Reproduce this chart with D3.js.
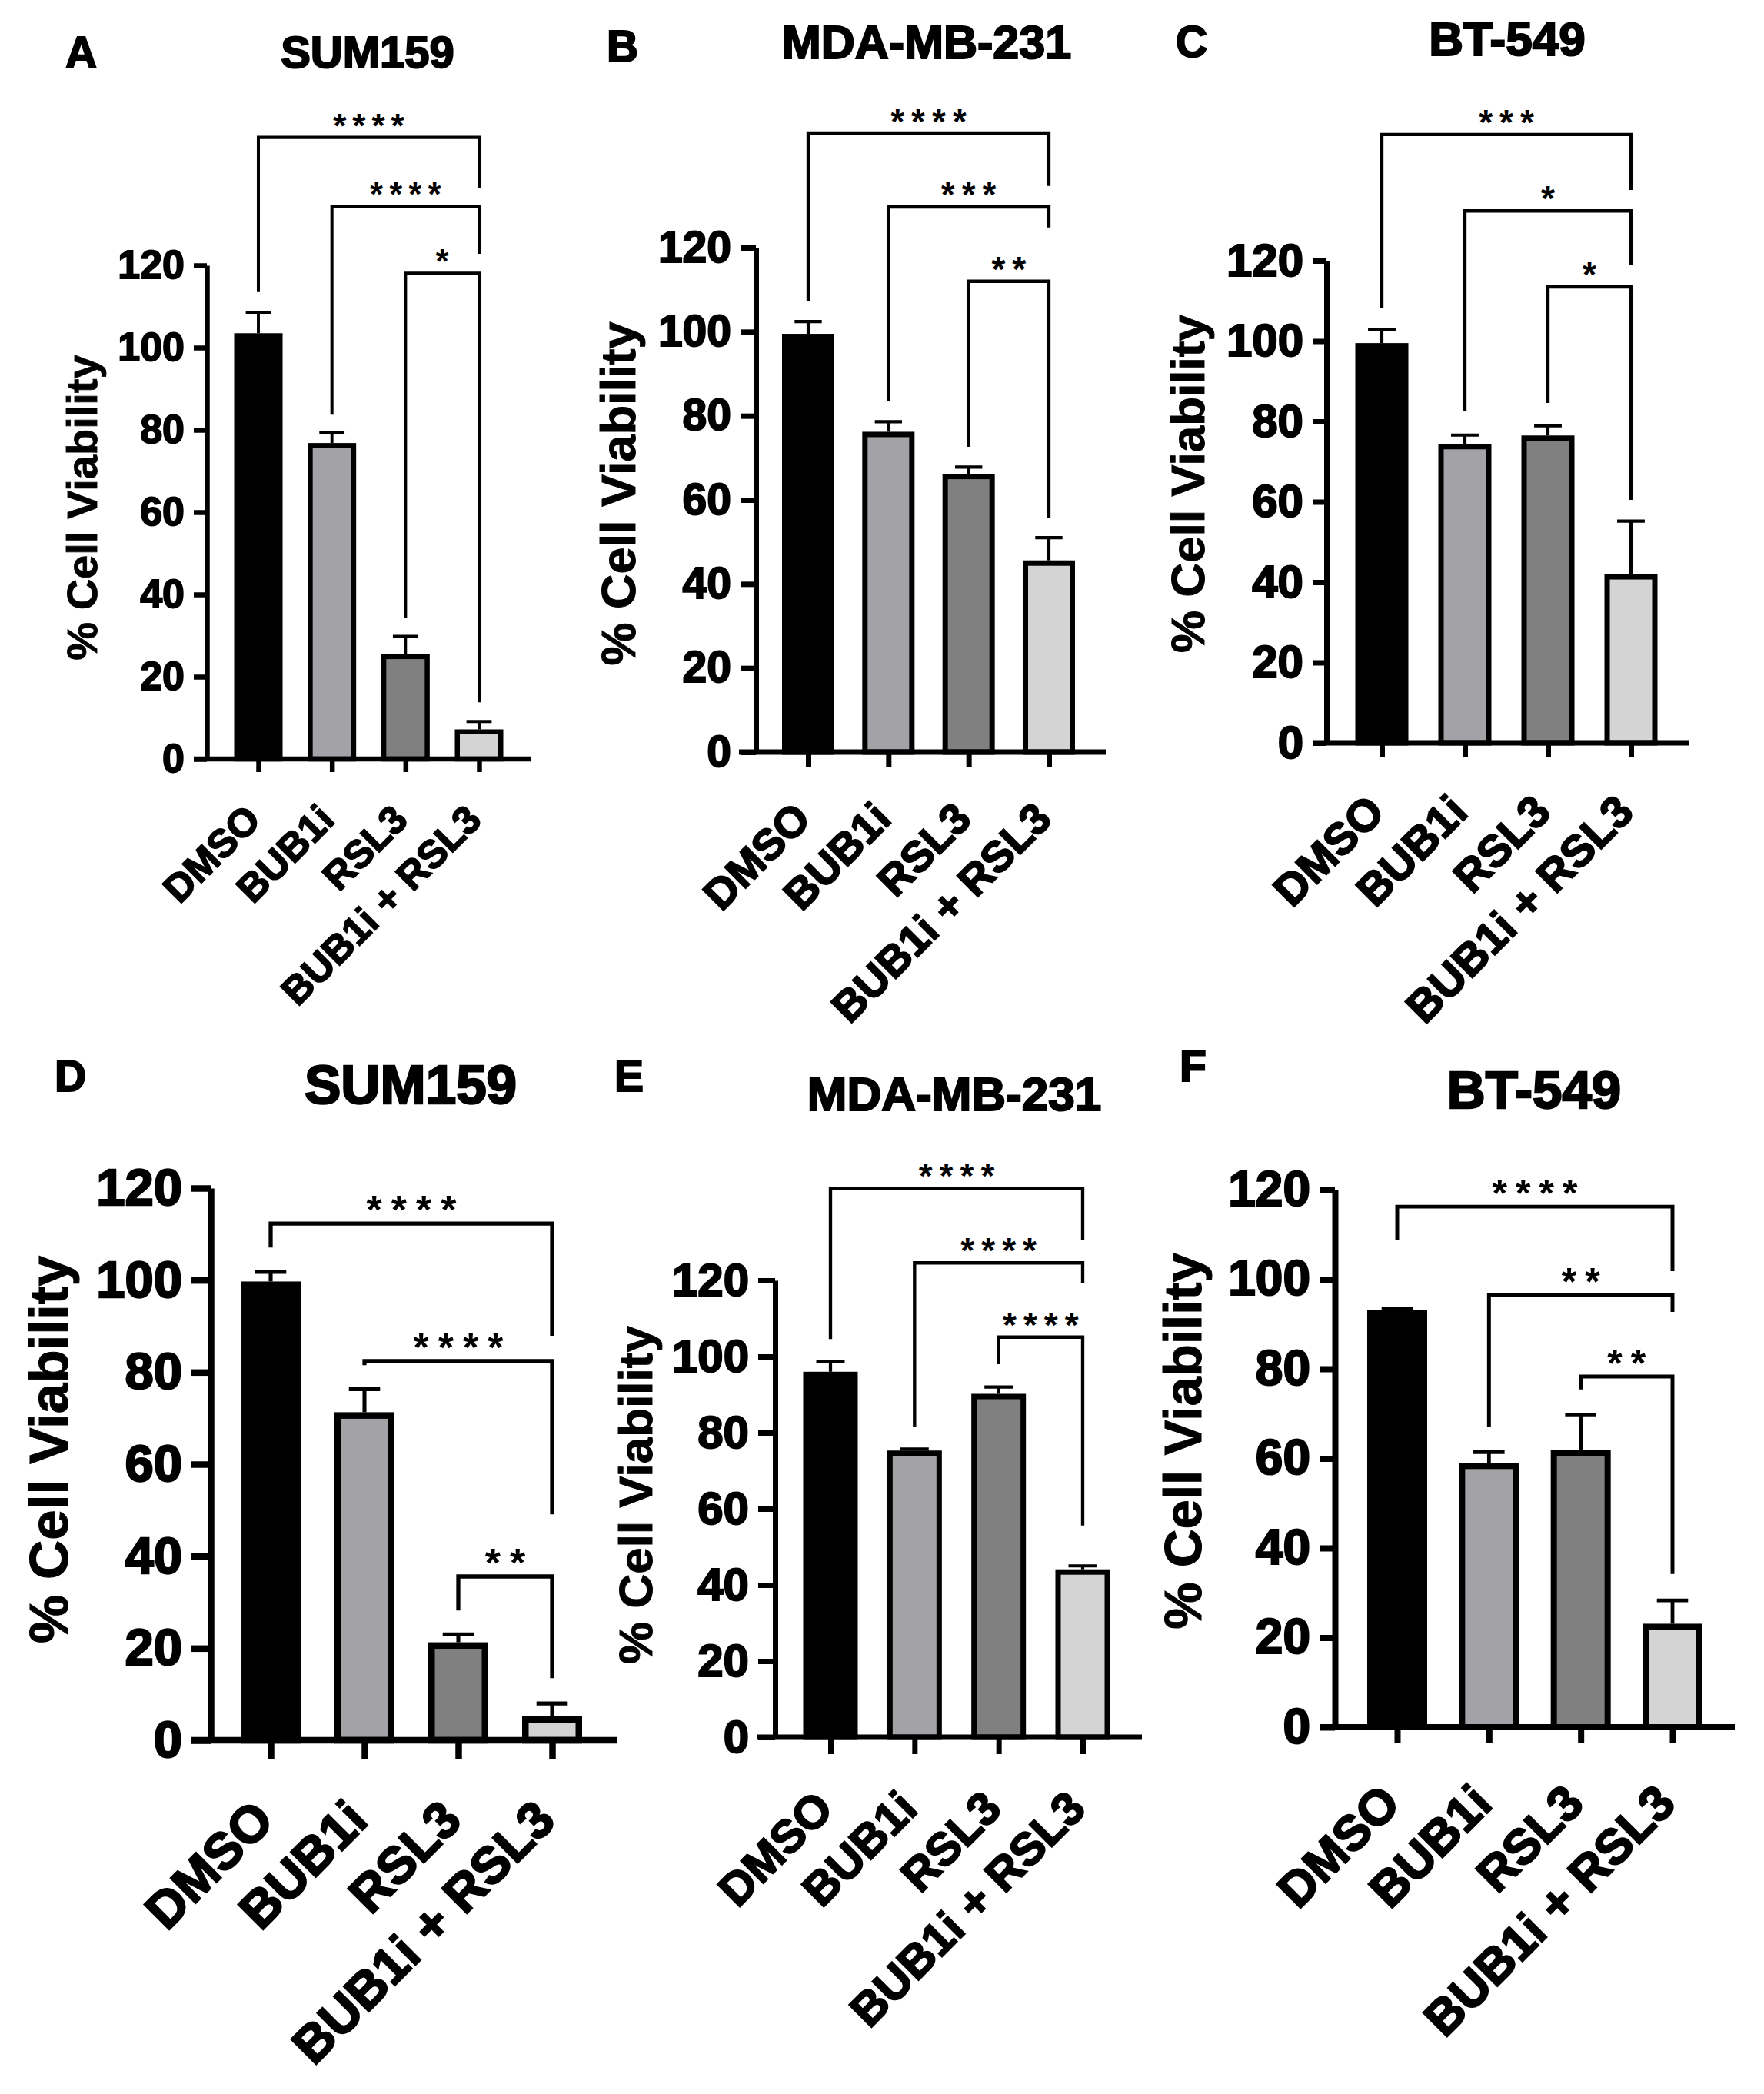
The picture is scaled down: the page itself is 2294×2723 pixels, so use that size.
<!DOCTYPE html>
<html>
<head>
<meta charset="utf-8">
<script src="https://cdn.jsdelivr.net/npm/d3@7/dist/d3.min.js"></script>
<style>
  body { margin: 0; background: #fff; }
  svg text { font-family: "Liberation Sans", Arial, sans-serif; }
</style>
</head>
<body>
<div id="canvas"></div>
<script>
// ---- data ----
var categories = ["DMSO", "BUB1i", "RSL3", "BUB1i + RSL3"];
var panelLetters = ["A", "B", "C", "D", "E", "F"];
var cellLines = ["SUM159", "MDA-MB-231", "BT-549", "SUM159", "MDA-MB-231", "BT-549"];
var yTicks = [0, 20, 40, 60, 80, 100, 120];
var yLabel = "% Cell Viability";

// mean % viability and SEM (upper error bar only)
var meanA = [103.5, 76.8, 25.5, 7.2],  errA = [5.1, 2.5, 4.3, 1.9];
var meanB = [99.5, 76.2, 66.2, 45.6],  errB = [2.9, 2.4, 1.6, 5.4];
var meanC = [99.5, 74.4, 76.5, 42.0],  errC = [3.3, 2.2, 2.4, 13.2];
var meanD = [99.7, 71.3, 21.3, 5.2],   errD = [2.1, 5.0, 1.7, 2.8];
var meanE = [96.0, 75.3, 90.2, 44.1],  errE = [2.7, 0.4, 1.8, 0.9];
var meanF = [93.2, 59.0, 61.8, 23.1],  errF = [0.3, 2.4, 8.0, 5.2];

// comparisons: each group vs BUB1i + RSL3
var pairs = [[0, 3], [1, 3], [2, 3]];
var starsA = ["****", "****", "*"];
var starsB = ["****", "***", "**"];
var starsC = ["***", "*", "*"];
var starsD = ["****", "****", "**"];
var starsE = ["****", "****", "****"];
var starsF = ["****", "**", "**"];

// bracket level, and where the left / right legs stop (in % units)
var levelA = [151.1, 134.4, 118.1], leftA = [113.5, 83.7, 34.2], rightA = [138.9, 122.8, 13.8];
var levelB = [147.1, 129.7, 112.0], leftB = [107.4, 83.4, 72.6], rightB = [134.7, 124.8, 55.8];
var levelC = [151.4, 132.4, 113.5], leftC = [108.3, 82.5, 84.6], rightC = [137.6, 118.9, 60.5];
var levelD = [112.3, 82.4, 35.6],   leftD = [107.1, 81.5, 28.2], rightD = [87.9, 49.1, 13.5];
var levelE = [144.2, 124.6, 105.1], leftE = [104.6, 81.4, 98.0], rightE = [130.5, 119.4, 55.6];
var levelF = [116.2, 96.5, 78.3],   leftF = [108.7, 67.0, 75.4], rightF = [101.8, 92.7, 34.2];

var panelData = [
  {mean: meanA, err: errA, stars: starsA, level: levelA, left: leftA, right: rightA},
  {mean: meanB, err: errB, stars: starsB, level: levelB, left: leftB, right: rightB},
  {mean: meanC, err: errC, stars: starsC, level: levelC, left: leftC, right: rightC},
  {mean: meanD, err: errD, stars: starsD, level: levelD, left: leftD, right: rightD},
  {mean: meanE, err: errE, stars: starsE, level: levelE, left: leftE, right: rightE},
  {mean: meanF, err: errF, stars: starsF, level: levelF, left: leftF, right: rightF}
];

// ---- styles and layout ----
var fills = ["#000000", "#a3a3a7", "#808080", "#d4d4d4"];

var layout = [
  {axisX: 269,  y0: 987,  y120: 345,  xStart: 252,  xEnd: 691,  c0: 336,  c3: 623,  barW: 63, tickLen: 17, tickFont: 52, xFont: 51,
   titleX: 478,  titleY: 88,   titleFont: 58, letterX: 85,   letterY: 88,   ylabX: 106,  ylabY: 660,  ylabFont: 56, starFont: 44, ls: 8,  sw: 6.5},
  {axisX: 983,  y0: 978,  y120: 322,  xStart: 961,  xEnd: 1438, c0: 1051, c3: 1364, barW: 68, tickLen: 20, tickFont: 57, xFont: 56,
   titleX: 1205, titleY: 76,   titleFont: 61, letterX: 789,  letterY: 80,   ylabX: 803,  ylabY: 642,  ylabFont: 63, starFont: 46, ls: 9,  sw: 7},
  {axisX: 1725, y0: 966,  y120: 339,  xStart: 1707, xEnd: 2196, c0: 1797, c3: 2121, barW: 69, tickLen: 18, tickFont: 60, xFont: 58,
   titleX: 1960, titleY: 72,   titleFont: 62, letterX: 1529, letterY: 74,   ylabX: 1544, ylabY: 629,  ylabFont: 62, starFont: 46, ls: 9,  sw: 7},
  {axisX: 274,  y0: 2263, y120: 1545, xStart: 248,  xEnd: 802,  c0: 352,  c3: 718,  barW: 78, tickLen: 25, tickFont: 67, xFont: 67,
   titleX: 534,  titleY: 1435, titleFont: 71, letterX: 71,   letterY: 1419, ylabX: 62,   ylabY: 1885, ylabFont: 71, starFont: 52, ls: 12, sw: 8.5},
  {axisX: 1008, y0: 2259, y120: 1665, xStart: 985,  xEnd: 1485, c0: 1080, c3: 1408, barW: 71, tickLen: 22, tickFont: 60, xFont: 60,
   titleX: 1241, titleY: 1444, titleFont: 62, letterX: 799,  letterY: 1419, ylabX: 826,  ylabY: 1944, ylabFont: 62, starFont: 46, ls: 9,  sw: 7},
  {axisX: 1736, y0: 2246, y120: 1547, xStart: 1716, xEnd: 2256, c0: 1817, c3: 2175, barW: 78, tickLen: 20, tickFont: 64, xFont: 64,
   titleX: 1995, titleY: 1441, titleFont: 69, letterX: 1534, letterY: 1406, ylabX: 1537, ylabY: 1874, ylabFont: 69, starFont: 50, ls: 11, sw: 8}
];

var svg = d3.select("#canvas").append("svg")
  .attr("width", 2294)
  .attr("height", 2723)
  .style("background", "#fff");

panelData.forEach(function(p, k) {
  drawPanel(p, layout[k], k);
});

// heavy bold text, like the exported figure
function heavy(sel, size, extra) {
  sel.style("font-size", size + "px")
    .style("font-weight", "bold")
    .style("fill", "#000")
    .style("stroke", "#000")
    .style("stroke-width", size * extra);
}

function drawPanel(p, L, k) {
  var y = d3.scaleLinear().domain([0, 120]).range([L.y0, L.y120]);
  var x = d3.scalePoint().domain(categories).range([L.c0, L.c3]);
  var g = svg.append("g").attr("class", "panel");

  // panel letter + title
  g.append("text")
    .attr("x", L.letterX).attr("y", L.letterY)
    .call(heavy, 57, 0.035)
    .text(panelLetters[k]);
  g.append("text")
    .attr("x", L.titleX).attr("y", L.titleY)
    .attr("text-anchor", "middle")
    .call(heavy, L.titleFont, 0.035)
    .text(cellLines[k]);

  // y label
  g.append("text")
    .attr("transform", "translate(" + L.ylabX + "," + L.ylabY + ") rotate(-90)")
    .attr("text-anchor", "middle")
    .attr("dy", "0.36em")
    .call(heavy, L.ylabFont, 0.015)
    .text(yLabel);

  // bars
  g.selectAll("rect.bar")
    .data(p.mean)
    .enter().append("rect")
      .attr("class", "bar")
      .attr("x", function(d, i) { return x(categories[i]) - L.barW / 2 + L.sw / 2; })
      .attr("y", function(d) { return y(d) + L.sw / 2; })
      .attr("width", L.barW - L.sw)
      .attr("height", function(d) { return L.y0 - y(d) - L.sw / 2; })
      .style("fill", function(d, i) { return fills[i]; })
      .style("stroke", "#000")
      .style("stroke-width", L.sw);

  // error bars (upper only)
  var ew = L.sw * 0.6;
  g.selectAll("line.err")
    .data(p.mean)
    .enter().append("line")
      .attr("class", "err")
      .attr("x1", function(d, i) { return x(categories[i]); })
      .attr("x2", function(d, i) { return x(categories[i]); })
      .attr("y1", function(d) { return y(d); })
      .attr("y2", function(d, i) { return y(d + p.err[i]); })
      .style("stroke", "#000").style("stroke-width", ew);
  g.selectAll("line.cap")
    .data(p.mean)
    .enter().append("line")
      .attr("class", "cap")
      .attr("x1", function(d, i) { return x(categories[i]) - L.barW * 0.26; })
      .attr("x2", function(d, i) { return x(categories[i]) + L.barW * 0.26; })
      .attr("y1", function(d, i) { return y(d + p.err[i]); })
      .attr("y2", function(d, i) { return y(d + p.err[i]); })
      .style("stroke", "#000").style("stroke-width", ew);

  // y axis
  var ya = g.append("g")
    .attr("transform", "translate(" + L.axisX + ",0)")
    .call(d3.axisLeft(y).tickValues(yTicks).tickSize(L.tickLen).tickSizeOuter(0).tickPadding(12));
  ya.select(".domain").style("stroke-width", L.sw);
  ya.selectAll(".tick line").style("stroke-width", L.sw);
  ya.selectAll(".tick text")
    .attr("font-family", null)
    .call(heavy, L.tickFont, 0.035);

  // x axis baseline
  g.append("line")
    .attr("x1", L.xStart).attr("x2", L.xEnd)
    .attr("y1", L.y0).attr("y2", L.y0)
    .style("stroke", "#000").style("stroke-width", L.sw);

  // x ticks + rotated labels
  var xa = g.append("g")
    .attr("transform", "translate(0," + L.y0 + ")")
    .call(d3.axisBottom(x).tickSize(L.tickLen).tickSizeOuter(0));
  xa.select(".domain").remove();
  xa.selectAll(".tick line").style("stroke-width", L.sw);
  xa.selectAll(".tick text")
    .attr("y", 0).attr("dy", null)
    .attr("text-anchor", "end")
    .attr("transform", "translate(" + (0.1 * L.xFont) + "," + (1.6 * L.xFont) + ") rotate(-45)")
    .call(heavy, L.xFont, 0.035);

  // significance brackets
  var bw = L.sw * 0.62;
  pairs.forEach(function(pr, j) {
    var xl = x(categories[pr[0]]), xr = x(categories[pr[1]]);
    var yl = y(p.level[j]);
    g.append("path")
      .attr("d", "M" + xl + "," + y(p.left[j]) + "V" + yl + "H" + xr + "V" + y(p.right[j]))
      .style("fill", "none").style("stroke", "#000").style("stroke-width", bw);
    g.append("text")
      .attr("x", (xl + xr) / 2).attr("y", yl)
      .attr("dx", L.ls / 2)
      .attr("text-anchor", "middle")
      .style("font-size", L.starFont + "px")
      .style("font-weight", "bold")
      .style("letter-spacing", L.ls + "px")
      .text(p.stars[j]);
  });
}
</script>
</body>
</html>
